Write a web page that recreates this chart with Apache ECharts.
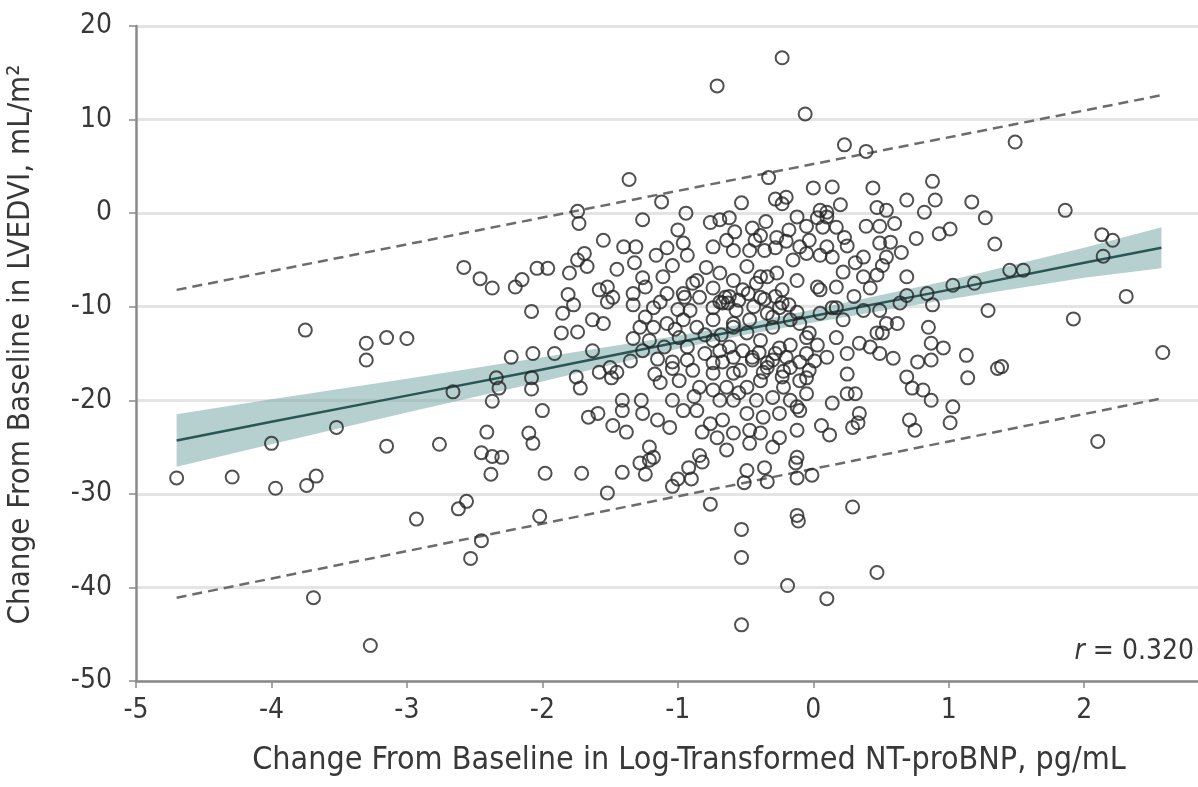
<!DOCTYPE html>
<html>
<head>
<meta charset="utf-8">
<script src="https://cdn.jsdelivr.net/npm/echarts@6/dist/echarts.min.js"></script>
<style>
  html, body { margin: 0; padding: 0; background: #fff; overflow: hidden; }
  #chart { width: 1198px; height: 787px; }
</style>
</head>
<body>
<div id="chart"></div>
<script>
// change in log NT-proBNP (x) vs change in LVEDVI (y)
const points = [
  [-4.70,-28.3],[-4.29,-28.2],[-4.00,-24.6],[-3.97,-29.4],[-3.75,-12.5],[-3.74,-29.1],[-3.67,-28.1],[-3.69,-41.1],
  [-3.52,-22.9],[-3.30,-13.9],[-3.30,-15.7],[-3.27,-46.2],[-3.15,-13.3],[-3.15,-24.9],[-3.00,-13.4],[-2.93,-32.7],
  [-2.76,-24.7],[-2.66,-19.1],[-2.62,-31.6],[-2.56,-30.8],[-2.58,-5.8],[-2.46,-7.0],[-2.37,-8.0],[-2.34,-17.6],
  [-2.32,-18.7],[-2.37,-20.1],[-2.41,-23.4],[-2.45,-25.6],[-2.37,-26.0],[-2.30,-26.1],[-2.38,-27.9],[-2.45,-35.0],
  [-2.53,-36.9],[-2.20,-7.9],[-2.15,-7.1],[-2.04,-5.9],[-1.96,-5.9],[-2.08,-10.5],[-2.23,-15.4],[-2.07,-15.0],
  [-1.91,-15.0],[-2.08,-17.6],[-2.08,-18.8],[-2.00,-21.1],[-2.10,-23.5],[-2.07,-24.6],[-1.98,-27.8],[-1.71,-27.8],
  [-2.02,-32.4],
  [-1.52,-29.9],[-1.41,-27.7],[-1.24,-27.9],[-1.28,-26.7],[-1.21,-26.4],[-1.04,-29.2],[-1.00,-28.4],[-0.90,-28.4],
  [-0.92,-27.2],[-0.82,-26.6],[-0.76,-31.1],[-0.53,-33.8],[-0.53,-36.8],[-0.53,-44.0],[-0.49,-27.5],[-0.36,-27.2],
  [-0.34,-28.7],[-0.51,-28.8],[-0.13,-26.7],[-0.12,-28.3],[-0.01,-28.0],[-0.19,-39.8],[0.47,-38.4],[0.10,-41.2],
  [0.29,-31.4],[-0.12,-32.3],[-0.11,-32.9],
  [-0.71,13.6],[-0.23,16.6],[-0.06,10.6],[-1.36,3.6],[-1.12,1.2],[-0.94,0.0],[-1.74,0.2],[-1.73,-1.1],
  [-1.26,-0.7],[-1.55,-2.9],[-1.40,-3.6],[-1.31,-3.6],[-1.32,-5.3],[-1.16,-4.5],[-1.08,-3.7],[-0.96,-3.2],
  [-0.93,-4.5],[-1.04,-5.6],[-1.11,-6.8],[-0.76,-1.0],[-0.69,-0.7],[-0.62,-0.5],[-0.53,1.1],[-0.74,-3.6],
  [-0.64,-2.9],[-0.59,-4.0],[-0.79,-5.8],[-0.69,-6.4],[-0.86,-7.2],[-0.74,-8.0],[-0.59,-7.2],[-1.80,-6.4],
  [-1.74,-5.0],[-1.69,-4.3],[-1.67,-5.7],[-1.81,-8.7],[-1.58,-8.2],[-1.52,-7.9],[-1.48,-9.0],[-1.26,-6.9],
  [-1.24,-7.9],[-1.33,-8.6],[-1.08,-8.6],[-0.96,-8.6],
  [0.23,7.3],[0.39,6.6],[-0.33,3.8],[0.00,2.7],[0.14,2.8],[0.44,2.7],[0.88,3.4],[0.69,1.4],
  [0.90,1.4],[0.82,0.1],[1.17,1.2],[1.27,-0.5],[1.34,-3.3],[0.93,-2.2],[1.01,-1.7],[-0.28,1.5],
  [-0.20,1.7],[-0.23,1.0],[0.47,0.6],[0.54,0.3],[0.60,-1.1],[0.39,-1.4],[0.49,-1.4],[0.20,0.9],
  [0.10,0.1],[0.03,-0.5],[-0.05,-1.4],[-0.18,-1.8],[-0.27,-2.6],[-0.39,-2.4],[-0.47,-4.0],[-0.36,-4.0],
  [-0.28,-3.7],[-0.10,-3.6],[-0.03,-2.9],[0.07,-1.5],[0.17,-1.5],[0.23,-2.6],[0.10,-3.6],[0.05,-4.5],
  [-0.05,-4.3],[-0.15,-5.0],[0.14,-4.7],[0.25,-3.5],[0.49,-3.2],[0.57,-3.1],[0.54,-4.7],[0.37,-4.7],
  [0.31,-5.3],[0.51,-5.6],[0.47,-6.6],[0.37,-6.8],[0.69,-6.8],[1.03,-7.7],[1.19,-7.5],[0.17,-7.9],
  [0.03,-7.9],[-0.12,-7.2],[-0.27,-6.4],[-0.39,-6.8],[-0.49,-5.7],[-0.23,-8.2],[0.42,-8.0],[0.69,-8.8],
  [0.84,-8.6],[-0.52,-8.2],
  [-1.85,-10.7],[-1.77,-9.8],[-1.86,-12.8],[-1.74,-12.7],[-1.63,-11.4],[-1.55,-11.8],[-1.52,-9.5],[-1.33,-9.8],
  [-1.18,-10.1],[-1.28,-12.2],[-1.18,-12.2],[-1.08,-11.8],[-0.96,-11.4],[-0.86,-12.2],[-0.74,-11.4],[-0.67,-9.6],
  [-0.59,-12.2],[-1.33,-13.4],[-1.21,-13.6],[-1.10,-14.3],[-1.26,-14.7],[-0.99,-13.3],[-0.93,-14.3],[-0.74,-13.6],
  [-0.62,-14.3],[-1.63,-14.7],[-1.75,-17.5],[-1.72,-18.7],[-1.58,-17.0],[-1.50,-16.5],[-1.49,-17.6],[-1.45,-17.0],
  [-1.17,-17.2],[-1.13,-18.1],[-1.04,-16.6],[-1.04,-15.9],[-0.93,-15.7],[-0.89,-16.8],[-0.74,-17.1],[-0.67,-15.9],
  [-0.59,-17.1],[-0.99,-17.9],[-0.84,-18.6],[-0.74,-18.9],[-0.64,-18.6],[-1.41,-20.0],[-1.41,-21.1],[-1.27,-20.0],
  [-1.26,-21.4],[-1.04,-20.0],[-0.96,-21.1],[-0.86,-21.1],[-0.69,-20.0],[-0.59,-20.0],[-1.66,-21.8],[-1.59,-21.4],
  [-1.48,-22.7],[-1.38,-23.4],[-1.15,-22.1],[-1.06,-22.9],[-0.76,-22.5],[-0.67,-22.1],[-0.82,-23.4],[-0.71,-24.0],
  [-0.59,-23.5],[-1.21,-25.0],[-1.18,-26.1],[-0.84,-25.9],[-0.64,-25.3],
  [1.29,-10.4],[0.88,-9.8],[0.85,-12.2],[0.87,-13.9],[0.96,-14.4],[0.87,-15.7],[0.77,-15.9],[1.13,-15.2],
  [1.14,-17.6],[1.36,-16.6],[0.69,-17.5],[0.73,-18.7],[0.81,-18.9],[0.87,-20.0],[1.03,-20.7],[1.01,-22.4],
  [0.71,-22.1],[0.75,-23.2],[0.25,-17.2],[0.14,-20.3],[0.25,-19.3],[0.31,-19.3],[0.34,-21.4],[0.33,-22.4],
  [0.29,-22.9],[0.06,-22.7],[0.12,-23.7],[-0.12,-23.2],[-0.25,-24.0],[-0.30,-25.0],[-0.47,-24.6],[-0.12,-26.1],
  [0.59,-15.5],[0.49,-15.0],[0.42,-14.3],[0.51,-12.8],[0.62,-11.8],[0.54,-11.8],[0.47,-12.8],[0.34,-13.9],
  [0.25,-15.0],[0.17,-13.3],[0.22,-11.4],[0.37,-10.4],[0.49,-10.4],[0.64,-9.6],[0.10,-15.4],[0.03,-14.1],
  [-0.03,-12.8],[-0.10,-11.8],[0.05,-10.7],[0.17,-10.1],[-0.05,-15.0],[-0.17,-14.1],[-0.25,-14.4],[-0.30,-15.7],
  [-0.17,-16.5],[-0.03,-16.8],[-0.10,-17.9],[-0.23,-17.5],[-0.34,-16.5],[-0.45,-15.7],[-0.52,-14.7],[-0.39,-13.6],
  [-0.49,-12.8],[-0.47,-11.4],[-0.34,-10.7],[-0.25,-10.1],[-0.17,-11.4],[-0.30,-12.2],[-0.39,-17.9],[-0.49,-18.6],
  [-0.42,-20.0],[-0.30,-19.7],[-0.17,-20.0],[-0.05,-19.3],[-0.10,-21.1],[-0.25,-21.4],[-0.37,-21.8],[-0.49,-21.4],
  [-0.47,-23.2],[-0.39,-23.5],[-0.12,-20.7],
  [1.49,7.6],[1.86,0.3],[2.13,-2.3],[2.21,-2.9],[2.14,-4.6],[2.31,-8.9],[1.92,-11.3],[1.45,-6.1],
  [1.55,-6.1],[2.58,-14.9],[1.39,-16.4],[2.10,-24.4],
  [-0.69,-9.5],[-0.63,-9.6],[-0.65,-9.0],[-0.57,-10.4],[-0.74,-10.1],[-0.42,-7.5],[-0.34,-6.8],[-0.39,-9.0],
  [-0.23,-9.6],[-0.30,-11.1],[-0.59,-11.8],[-0.89,-7.5],[-0.84,-9.0],[-0.91,-10.4],[-0.45,-15.4],[-0.34,-16.0],
  [-0.20,-15.4],[-0.59,-15.4],[-0.69,-14.7],[-0.74,-16.0],[-0.54,-16.8],[-0.05,-13.3],[0.14,-10.1],[0.05,-8.2],
  [0.10,-0.4],[0.05,0.3],[-1.13,-9.5],[-1.00,-10.3],[-0.95,-9.0],[-1.24,-11.1],
  [-0.62,-8.9],[-0.55,-9.3],[-0.48,-8.6],[-0.44,-10.0],[-0.36,-9.2],[-0.28,-8.9],[-0.18,-9.8],[-0.12,-10.6],
  [-0.40,-14.9],[-0.28,-15.0],[-0.10,-15.9],[-0.22,-16.9],[-0.37,-17.0],[-0.05,-17.6],[0.01,-15.8],
  [-0.58,-2.0],[-0.45,-1.6],[-0.35,-0.9],[-0.12,-0.4],[-0.43,-2.9],[-0.20,-3.0],
  [-0.80,-13.0],[-0.68,-13.0],[-1.02,-12.4],[-0.80,-15.0],[-0.88,-19.6],[-0.55,-19.2],[-0.22,-18.6],
  [-1.15,-15.6],[-1.35,-15.8],[0.30,-8.9],[0.22,-6.3],[0.65,-4.2],[0.76,-2.7],[-1.45,-6.0],[-1.00,-1.8]
];

// regression line and its confidence band, read at a few x positions
const fitX     = [-4.70, -4.00, -3.00, -2.00, -1.00, -0.50, 0.00, 1.00, 2.00, 2.57];
const fitMid   = [-24.3, -22.3, -19.5, -16.7, -13.8, -12.4, -11.0, -8.2, -5.3, -3.7];
const fitUpper = [-21.5, -19.9, -17.7, -15.4, -13.1, -11.8, -10.3, -7.2, -3.7, -1.5];
const fitLower = [-27.1, -24.7, -21.3, -18.0, -14.5, -13.0, -11.7, -9.2, -6.9, -5.9];

// dashed prediction limits (end points)
const limitX     = [-4.70, 2.57];
const limitUpper = [-8.2, 12.6];
const limitLower = [-41.1, -19.8];

const xTicks = { min: -5, max: 2.84, step: 1 };
const yTicks = { min: -50, max: 20, step: 10 };

const FONT = '"Liberation Sans Narrow", "DejaVu Sans Condensed", sans-serif';
const AXIS_GRAY = '#8a8a8a';
const TEXT = '#383838';

const pair = (xs, ys) => xs.map((x, i) => [x, ys[i]]);

const chart = echarts.init(document.getElementById('chart'), null, { renderer: 'canvas' });

chart.setOption({
  animation: false,
  backgroundColor: '#fff',
  textStyle: { fontFamily: FONT },
  grid: { left: 136, right: 0, top: 26, bottom: 106, outerBoundsMode: 'none', containLabel: false },
  xAxis: {
    type: 'value',
    min: xTicks.min, max: xTicks.max, interval: xTicks.step,
    name: 'Change From Baseline in Log-Transformed NT-proBNP, pg/mL',
    nameLocation: 'middle',
    nameGap: 64,
    nameTextStyle: { fontSize: 32, color: TEXT, fontFamily: FONT, padding: [0, 0, 0, 44] },
    axisLine: { show: true, onZero: false, lineStyle: { color: AXIS_GRAY, width: 2.5 } },
    axisTick: { show: true, inside: false, length: 7, lineStyle: { color: AXIS_GRAY, width: 1.5 } },
    axisLabel: { fontSize: 28, color: TEXT, margin: 16, fontFamily: FONT, showMaxLabel: false },
    splitLine: { show: false }
  },
  yAxis: {
    type: 'value',
    min: yTicks.min, max: yTicks.max, interval: yTicks.step,
    name: 'Change From Baseline in LVEDVI, mL/m²',
    nameLocation: 'middle',
    nameGap: 100,
    nameRotate: 90,
    nameTextStyle: { fontSize: 31, color: TEXT, fontFamily: FONT, padding: [0, 0, 0, 18] },
    axisLine: { show: true, onZero: false, lineStyle: { color: AXIS_GRAY, width: 2.5 } },
    axisTick: { show: true, inside: false, length: 7, lineStyle: { color: AXIS_GRAY, width: 1.5 } },
    axisLabel: { fontSize: 28, color: TEXT, margin: 24, fontFamily: FONT },
    splitLine: { show: true, lineStyle: { color: '#e4e4e4', width: 3 } }
  },
  graphic: [{
    type: 'text',
    right: 4,
    top: 638,
    style: {
      text: '{i|r} = 0.320',
      fill: TEXT,
      font: '28px ' + FONT,
      rich: { i: { fontStyle: 'italic', fontSize: 28, fontFamily: FONT, fill: TEXT } }
    }
  }],
  series: [
    {
      // confidence band
      type: 'custom',
      z: 1,
      silent: true,
      data: [0],
      renderItem: (params, api) => {
        const top = fitX.map((x, i) => api.coord([x, fitUpper[i]]));
        const bottom = fitX.map((x, i) => api.coord([x, fitLower[i]])).reverse();
        return {
          type: 'polygon',
          shape: { points: top.concat(bottom) },
          style: { fill: 'rgba(122, 170, 170, 0.55)' }
        };
      }
    },
    {
      type: 'line',
      z: 2,
      data: pair(fitX, fitMid),
      showSymbol: false,
      lineStyle: { color: '#2b5656', width: 2.5 }
    },
    {
      type: 'line',
      z: 2,
      data: pair(limitX, limitUpper),
      showSymbol: false,
      lineStyle: { color: '#6c6c6c', width: 2.5, type: [10, 6] }
    },
    {
      type: 'line',
      z: 2,
      data: pair(limitX, limitLower),
      showSymbol: false,
      lineStyle: { color: '#6c6c6c', width: 2.5, type: [10, 6] }
    },
    {
      type: 'scatter',
      z: 3,
      data: points,
      symbol: 'circle',
      symbolSize: 13,
      itemStyle: { color: 'rgba(255,255,255,0)', borderColor: '#262626', borderWidth: 2 }
    }
  ]
});
</script>
</body>
</html>
